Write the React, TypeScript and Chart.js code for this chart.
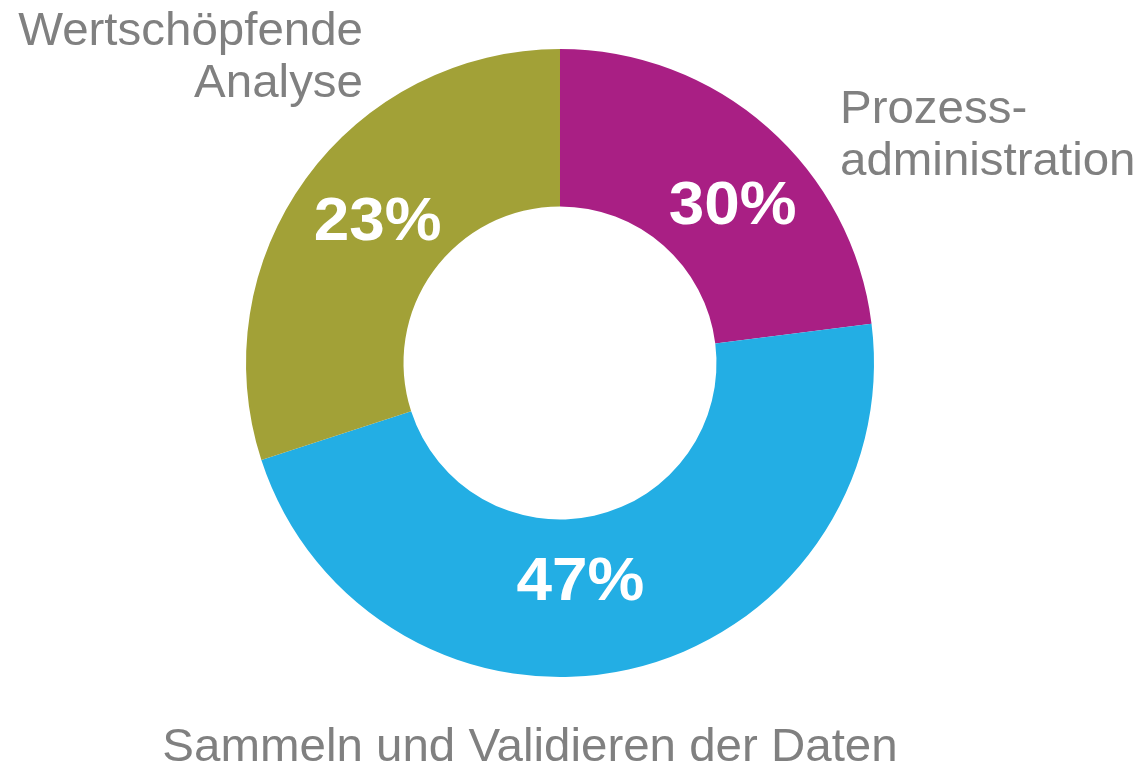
import React, { useEffect, useRef } from "react";
import { Chart, registerables } from "chart.js";

Chart.register(...registerables);

const categories = ["Prozessadministration", "Sammeln und Validieren der Daten", "Wertschöpfende Analyse"];
const values = [23, 47, 30];
const valueLabels = ["30%", "47%", "23%"];
const colors = ["#A91F84", "#23AEE4", "#A2A137"];
const outerLabelLines = [["Prozess-", "administration"], ["Sammeln und Validieren der Daten"], ["Wertschöpfende", "Analyse"]];

function drawScaledText(ctx: any, text: string, x: number, y: number, sx: number) {
  ctx.save();
  ctx.translate(x, y);
  ctx.scale(sx, 1);
  ctx.fillText(text, 0, 0);
  ctx.restore();
}

const labelPlugin = {
  id: "customLabels",
  afterDatasetsDraw(chart: any) {
    const ctx = chart.ctx;
    const meta = chart.getDatasetMeta(0);
    // value labels inside arcs
    const inOffsets = [
      [17, 37],
      [-31, 7],
      [8, 15],
    ];
    ctx.save();
    ctx.fillStyle = "#FFFFFF";
    ctx.font = "bold 62px 'Liberation Sans', Arial, sans-serif";
    ctx.textAlign = "center";
    ctx.textBaseline = "alphabetic";
    meta.data.forEach((arc: any, i: number) => {
      const p = arc.tooltipPosition(false);
      drawScaledText(ctx, valueLabels[i], p.x + inOffsets[i][0], p.y + inOffsets[i][1], 1.03);
    });
    // outer category labels
    ctx.fillStyle = "#808080";
    ctx.font = "47px 'Liberation Sans', Arial, sans-serif";
    const cx = meta.data[0].x;
    const cy = meta.data[0].y;
    const placements = [
      { x: cx + 280, y: cy - 240, align: "left" },
      { x: cx - 30, y: cy + 398, align: "center" },
      { x: cx - 197, y: cy - 318, align: "right" },
    ];
    outerLabelLines.forEach((lines, i) => {
      const pl = placements[i];
      ctx.textAlign = pl.align;
      lines.forEach((line, j) => {
        drawScaledText(ctx, line, pl.x, pl.y + j * 52, 1.01);
      });
    });
    ctx.restore();
  },
};

export default function App() {
  const ref = useRef<HTMLCanvasElement | null>(null);
  useEffect(() => {
    if (!ref.current) return;
    const chart = new Chart(ref.current, {
      type: "doughnut",
      data: {
        labels: categories,
        datasets: [
          {
            data: values,
            backgroundColor: colors,
            borderWidth: 0,
            hoverOffset: 0,
          },
        ],
      },
      options: {
        responsive: false,
        animation: false,
        radius: 314,
        cutout: 157,
        layout: { padding: { left: 245, right: 269, top: 48, bottom: 89 } },
        plugins: {
          legend: { display: false },
          tooltip: { enabled: false },
        },
        events: [],
      } as any,
      plugins: [labelPlugin as any],
    });
    return () => chart.destroy();
  }, []);
  return (
    <div style={{ position: "absolute", left: 0, top: 0, width: 1144, height: 767, background: "#fff" }}>
      <canvas ref={ref} width={1144} height={767} style={{ width: 1144, height: 767, display: "block" }} />
    </div>
  );
}
